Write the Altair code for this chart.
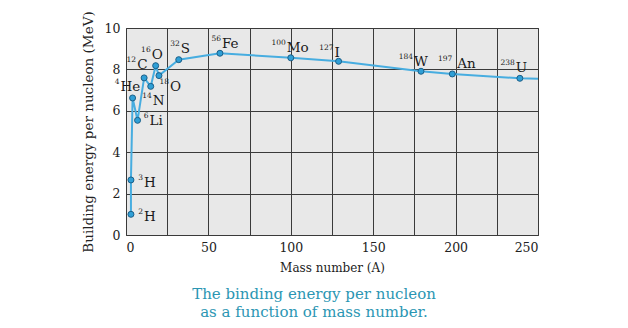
import altair as alt
import pandas as pd

# ---- data ----
mass = [3, 3, 4, 7, 11, 15, 18, 20, 32, 57, 100, 129, 179, 198, 239]
energy = [1.0, 2.66, 6.62, 5.54, 7.59, 7.18, 8.18, 7.7, 8.47, 8.78, 8.56, 8.39, 7.91, 7.78, 7.57]
sup = ["2", "3", "4", "6", "12", "14", "16", "18", "32", "56", "100", "127", "184", "197", "238"]
symbol = ["H", "H", "He", "Li", "C", "N", "O", "O", "S", "Fe", "Mo", "I", "W", "An", "U"]
# line continues past the last marker
tail_mass = [250]
tail_energy = [7.55]

# ---- label placement (style, pixels): symbol left-edge dx, vertical dy, superscript gap ----
label_dx = [13, 13, -12, 12, -7, 2, -4, 11, 2, 2, -4, -4, -7, 5, -4]
label_dy = [3, 3, -11, 1, -13, 15, -11, 11, -11, -9, -10, -8, -9, -10, -10]
sup_gap = [1, 1, 1, 1, 1, 1, 1, 1, 1, 1, 1, 1, 1, 5, 1]

pts = pd.DataFrame({"A": mass, "E": energy, "sup": sup, "sym": symbol})
line_df = pd.DataFrame({"A": mass + tail_mass, "E": energy + tail_energy,
                        "order": list(range(len(mass) + len(tail_mass)))})

SERIF = "DejaVu Serif"
x_scale = alt.Scale(domain=[0, 250], nice=False)
y_scale = alt.Scale(domain=[0, 10], nice=False)

x_axis = alt.Axis(values=list(range(0, 251, 25)),
                  labelExpr="datum.value % 50 == 0 ? datum.label : ''",
                  title="Mass number (A)", ticks=False, domain=False,
                  gridColor="#3a3a3a", gridOpacity=1, gridWidth=1,
                  labelFont=SERIF, labelFontSize=12.5, labelColor="#222",
                  labelPadding=6, titleFont=SERIF, titleFontSize=12,
                  titleFontWeight="normal", titleColor="#222", titlePadding=9)
y_axis = alt.Axis(values=list(range(0, 11, 2)), title="Building energy per nucleon (MeV)",
                  ticks=False, domain=False, gridColor="#3a3a3a", gridOpacity=1,
                  gridWidth=1, labelFont=SERIF, labelFontSize=12.5, labelColor="#222",
                  labelPadding=6, titleFont=SERIF, titleFontSize=13.5,
                  titleFontWeight="normal", titleColor="#222", titlePadding=9)

base = alt.Chart(line_df)
line = base.mark_line(color="#47ade0", strokeWidth=2).encode(
    x=alt.X("A:Q", scale=x_scale, axis=x_axis),
    y=alt.Y("E:Q", scale=y_scale, axis=y_axis),
    order="order:Q",
)
points = alt.Chart(pts).mark_point(filled=True, size=36, color="#2f9fd6",
                                   stroke="#1b5f88", strokeWidth=1, opacity=1).encode(
    x=alt.X("A:Q", scale=x_scale), y=alt.Y("E:Q", scale=y_scale))

layers = [line, points]
for i in range(len(mass)):
    row = pts.iloc[[i]]
    layers.append(alt.Chart(row).mark_text(
        font=SERIF, fontSize=13.5, color="#1a1a1a", align="left", baseline="middle",
        dx=label_dx[i], dy=label_dy[i]).encode(
        x=alt.X("A:Q", scale=x_scale), y=alt.Y("E:Q", scale=y_scale), text="sym:N"))
    layers.append(alt.Chart(row).mark_text(
        font=SERIF, fontSize=7.5, color="#1a1a1a", align="right", baseline="middle",
        dx=label_dx[i] - sup_gap[i], dy=label_dy[i] - 5).encode(
        x=alt.X("A:Q", scale=x_scale), y=alt.Y("E:Q", scale=y_scale), text="sup:N"))

caption = alt.Chart(pd.DataFrame({"t": ["c"]})).mark_text(
    font=SERIF, fontSize=15, color="#2b96b3", align="center", baseline="middle",
    lineBreak="\n", lineHeight=18).encode(
    x=alt.value(188), y=alt.value(266),
    text=alt.value("The binding energy per nucleon\nas a function of mass number."))
layers.append(caption)

chart = alt.layer(*layers).properties(
    width=412, height=207,
    padding={"left": 126, "top": 28, "right": 90, "bottom": 93},
    autosize=alt.AutoSizeParams(type="none"),
    background="white",
).configure_view(fill="#e8e8e8", stroke="#3a3a3a", strokeWidth=1)

chart.save("out.html", embed_options={"renderer": "svg", "actions": False})
